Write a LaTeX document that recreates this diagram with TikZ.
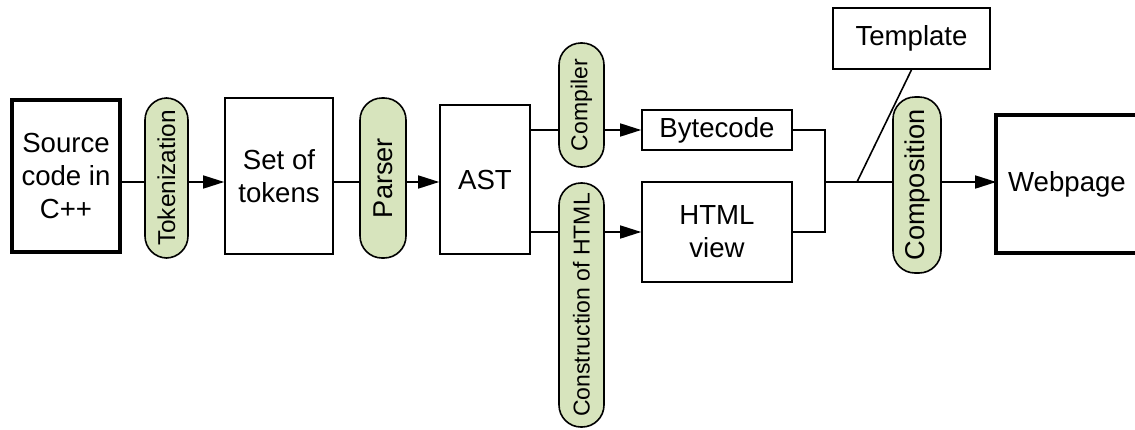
\documentclass[tikz,border=0pt]{standalone}
\usepackage{fontspec}
\setmainfont{Liberation Sans}
\usetikzlibrary{arrows.meta}
\definecolor{pillgreen}{RGB}{215,228,189}

\tikzset{
  stage/.style={draw, line width=0.8pt, align=center, inner sep=0pt,
    font=\fontsize{13.8}{16.5}\selectfont},
  endstage/.style={stage, line width=2pt},
  pill/.style={draw, fill=pillgreen, line width=0.8pt, inner sep=0pt,
    rounded corners=11pt, font=\fontsize{11.5}{14}\selectfont},
  bigpill/.style={pill, font=\fontsize{13.6}{16}\selectfont},
  arr/.style={-{Triangle[length=10.5pt,width=6.5pt]}},
}

\begin{document}
\begin{tikzpicture}[x=0.5pt,y=-0.5pt,line width=0.8pt]
  \useasboundingbox (0,0) rectangle (1135,429);
  \coordinate (axis) at (0,182);
  \coordinate (join) at (825,182);
  \coordinate (foot) at (857,182);

  \node[endstage, minimum width=54pt, minimum height=76pt] (src) at (66,176) {Source\\code in\\C++};
  \node[pill, minimum width=21.5pt, minimum height=80pt, font=\fontsize{12.2}{14}\selectfont] (tok) at (166.5,178) {\rotatebox{90}{Tokenization}};
  \node[stage, minimum width=54pt, minimum height=78pt] (set) at (279,176) {Set of\\tokens};
  \node[bigpill, minimum width=23pt, minimum height=80pt] (parser) at (383,178) {\rotatebox{90}{Parser}};
  \node[stage, minimum width=45pt, minimum height=74.5pt] (ast) at (485,179.5) {AST};
  \node[pill, minimum width=22.5pt, minimum height=62pt] (compiler) at (581.5,105) {\rotatebox{90}{Compiler}};
  \node[pill, minimum width=22.5pt, minimum height=122pt] (constr) at (581.5,305) {\rotatebox{90}{Construction of HTML}};
  \node[stage, minimum width=75pt, minimum height=20pt] (byte) at (717,130) {Bytecode};
  \node[stage, minimum width=75pt, minimum height=50pt] (html) at (717,232) {HTML\\view};
  \node[stage, minimum width=78.5pt, minimum height=30.5pt] (tpl) at (911.5,38.5) {Template};
  \node[bigpill, minimum width=24pt, minimum height=88pt] (comp) at (917,185) {\rotatebox{90}{Composition}};
  % the right side of the webpage box runs off the page
  \node[stage, draw=none, minimum width=84pt, minimum height=68pt] (web) at (1081,184) {Webpage\hspace*{14pt}};
  \draw[line width=2pt] (web.north east) -- (web.north west) -- (web.south west) -- (web.south east);

  \draw (src.east |- axis) -- (tok.west |- axis);
  \draw[arr] (tok.east |- axis) -- (set.west |- axis);
  \draw (set.east |- axis) -- (parser.west |- axis);
  \draw[arr] (parser.east |- axis) -- (ast.west |- axis);

  \draw (ast.east |- byte) -- (compiler.west |- byte);
  \draw[arr] (compiler.east |- byte) -- (byte.west);
  \draw (ast.east |- html) -- (constr.west |- html);
  \draw[arr] (constr.east |- html) -- (html.west);

  \draw (byte.east) -| (join) |- (html.east);
  \draw (join) -- (comp.west |- axis);
  \draw[arr] (comp.east |- axis) -- (web.west |- axis);
  \draw (tpl.south) -- (foot);
\end{tikzpicture}
\end{document}
